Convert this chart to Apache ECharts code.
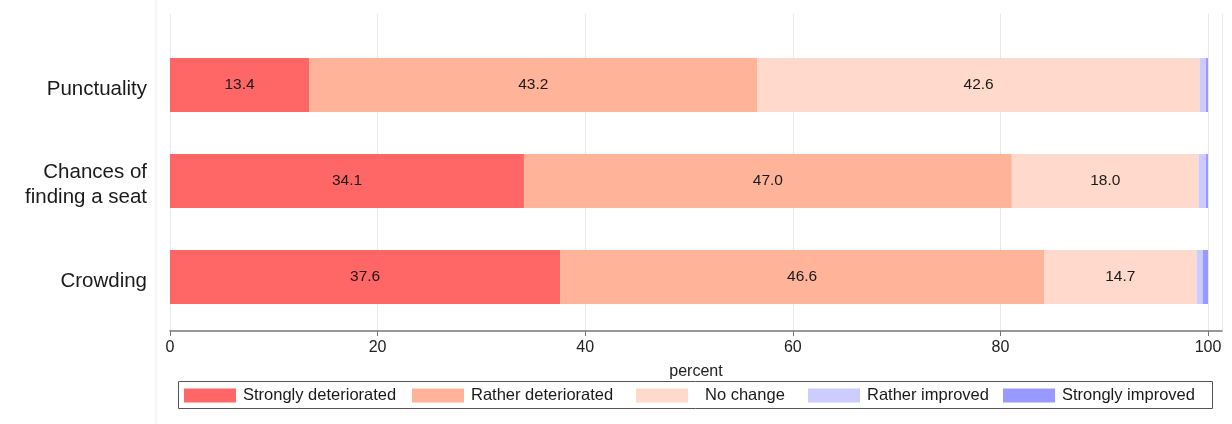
<!DOCTYPE html>
<html>
<head>
<meta charset="utf-8">
<script src="https://cdn.jsdelivr.net/npm/echarts@6/dist/echarts.min.js"></script>
<style>html,body{margin:0;padding:0;background:#fff;}#c{width:1232px;height:424px;}</style>
</head>
<body>
<div id="c"></div>
<script>
const categories = ['Punctuality', 'Chances of\nfinding a seat', 'Crowding'];
const seriesNames = ['Strongly deteriorated', 'Rather deteriorated', 'No change', 'Rather improved', 'Strongly improved'];
const stronglyDeteriorated = [13.4, 34.1, 37.6];
const ratherDeteriorated = [43.2, 47.0, 46.6];
const noChange = [42.6, 18.0, 14.7];
const ratherImproved = [0.6, 0.7, 0.6];
const stronglyImproved = [0.2, 0.2, 0.5];
const xTicks = [0, 20, 40, 60, 80, 100];
const colors = ['#FF6666', '#FFB399', '#FFD9CC', '#CCCCFF', '#9999FF'];

const seriesData = [stronglyDeteriorated, ratherDeteriorated, noChange, ratherImproved, stronglyImproved];
const FONT = 'Liberation Sans, Arial, sans-serif';
// legend column layout (Stata-like fixed columns)
const legendLefts = [184, 412, 636, 808, 1003];
const legendTextPad = [2, 2, 12, 2, 2];

const chart = echarts.init(document.getElementById('c'), null, {renderer: 'canvas'});
const option = {
  backgroundColor: '#fff',
  animation: false,
  graphic: [
    {type: 'line', shape: {x1: 156, y1: 0, x2: 156, y2: 424}, style: {stroke: '#ececec', lineWidth: 1}},
    {type: 'rect', shape: {x: 178.5, y: 381.5, width: 1034, height: 27}, style: {fill: 'none', stroke: '#555', lineWidth: 1}}
  ],
  grid: [
    {left: 170, right: 10, top: 14, bottom: 93},
    {left: 170, right: 10, top: 37, bottom: 99}
  ],
  xAxis: [
    {
      gridIndex: 0, type: 'value', min: xTicks[0], max: 101.35, interval: 20,
      axisLine: {show: true, lineStyle: {color: '#777', width: 1.5}},
      axisTick: {show: true, length: 5, lineStyle: {color: '#777'}, inside: false},
      axisLabel: {fontFamily: FONT, fontSize: 16, color: '#222', margin: 9, showMaxLabel: false,
        formatter: v => xTicks.indexOf(v) >= 0 ? String(v) : ''},
      splitLine: {show: true, lineStyle: {color: '#e9e9e9', width: 1}},
      name: 'percent', nameLocation: 'middle', nameGap: 33,
      nameTextStyle: {fontFamily: FONT, fontSize: 16, color: '#222'}
    },
    {
      gridIndex: 1, type: 'value', min: 0, max: 101.35, show: false
    }
  ],
  yAxis: [
    {gridIndex: 0, type: 'category', data: categories, show: false},
    {
      gridIndex: 1, type: 'category', data: categories, inverse: true,
      axisLine: {show: false}, axisTick: {show: false},
      axisLabel: {
        margin: 23, align: 'right',
        formatter: v => '{s|}\n' + v.split('\n').map(l => '{a|' + l + '}').join('\n'),
        rich: {
          s: {height: 8, lineHeight: 8, fontSize: 1},
          a: {fontFamily: FONT, fontSize: 20.5, color: '#1a1a1a', lineHeight: 25, align: 'right'}
        }
      }
    }
  ],
  legend: seriesNames.map((n, i) => ({
    left: legendLefts[i], top: 387,
    orient: 'horizontal',
    itemWidth: 52, itemHeight: 14,
    padding: 0,
    textStyle: {fontFamily: FONT, fontSize: 16.5, color: '#1a1a1a', padding: [0, 0, 0, legendTextPad[i]]},
    data: [n],
    icon: 'rect'
  })),
  series: seriesNames.map((name, i) => ({
    name: name,
    type: 'bar',
    stack: 'total',
    xAxisIndex: 1, yAxisIndex: 1,
    barWidth: 54,
    itemStyle: {color: colors[i]},
    label: {
      show: true, position: 'inside', fontFamily: FONT, fontSize: 15.5, color: '#1a1a1a',
      formatter: p => p.value >= 5 ? p.value.toFixed(1) : ''
    },
    data: seriesData[i]
  }))
};
chart.setOption(option);
</script>
</body>
</html>
